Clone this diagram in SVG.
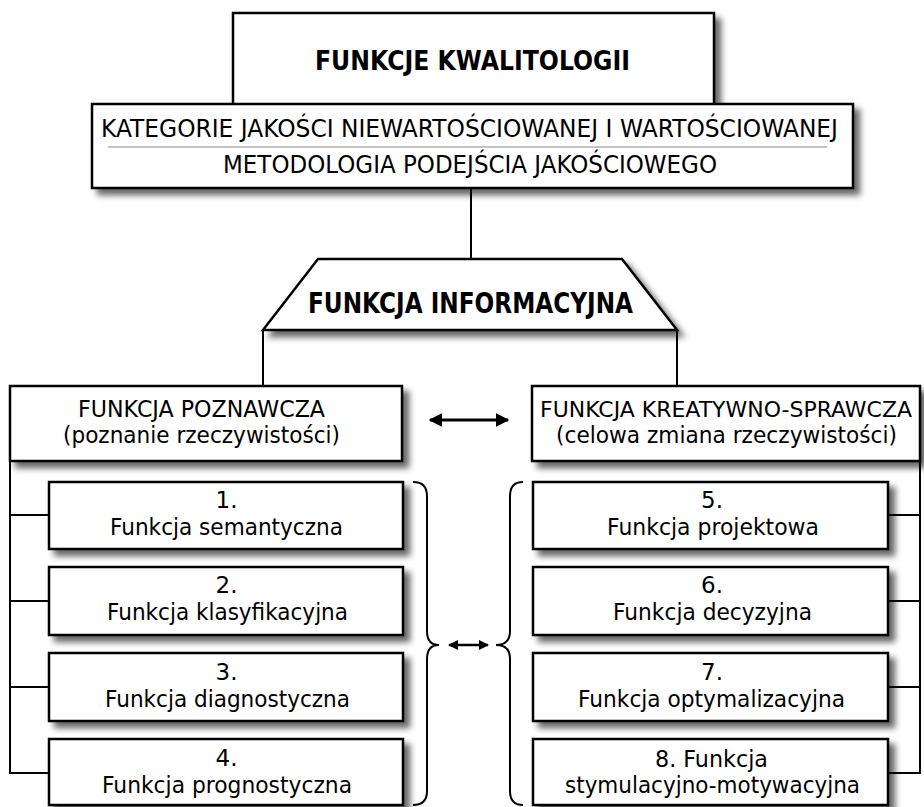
<svg xmlns="http://www.w3.org/2000/svg" width="924" height="807" viewBox="0 0 924 807">
<defs>
<filter id="sh" x="-10%" y="-10%" width="130%" height="140%">
<feGaussianBlur in="SourceAlpha" stdDeviation="3"/>
<feOffset dx="6" dy="6" result="b"/>
<feComponentTransfer><feFuncA type="linear" slope="0.6"/></feComponentTransfer>
<feMerge><feMergeNode/><feMergeNode in="SourceGraphic"/></feMerge>
</filter>
<marker id="ah" viewBox="0 0 10 10" refX="9" refY="5" markerWidth="4.5" markerHeight="4.5" orient="auto-start-reverse" markerUnits="strokeWidth">
<path d="M0,0 L10,5 L0,10 z" fill="#000"/>
</marker>
<marker id="ahs" viewBox="0 0 10 10" refX="9" refY="5" markerWidth="4" markerHeight="4.5" orient="auto-start-reverse" markerUnits="strokeWidth">
<path d="M0,0 L10,5 L0,10 z" fill="#000"/>
</marker>
</defs>
<style>
.box{fill:#fff;stroke:#000;stroke-width:2.5}
.ln{fill:none;stroke:#000;stroke-width:2}
text{font-family:"DejaVu Sans","Verdana",sans-serif;fill:#000;text-anchor:middle}
.t{font-size:23px}
.c{font-size:25px}
.b{font-size:26px;font-weight:bold}
.bb{font-size:29px;font-weight:bold}
</style>
<rect width="924" height="807" fill="#fff"/>

<g id="connectors">
<line class="ln" x1="471" y1="188" x2="471" y2="259"/>
<line class="ln" x1="263" y1="330" x2="263" y2="386"/>
<line class="ln" x1="677" y1="330" x2="677" y2="386"/>
<polyline class="ln" points="10,461 10,773 49,773"/>
<line class="ln" x1="10" y1="515" x2="49" y2="515"/>
<line class="ln" x1="10" y1="601" x2="49" y2="601"/>
<line class="ln" x1="10" y1="687" x2="49" y2="687"/>
<polyline class="ln" points="920,461 920,773 888,773"/>
<line class="ln" x1="888" y1="515" x2="920" y2="515"/>
<line class="ln" x1="888" y1="601" x2="920" y2="601"/>
<line class="ln" x1="888" y1="687" x2="920" y2="687"/>
<line x1="430" y1="420" x2="508" y2="420" stroke="#000" stroke-width="3" marker-start="url(#ah)" marker-end="url(#ah)"/>
<path class="ln" d="M413,482 Q427,482 427,496 L427,631 Q427,645 439,645 Q427,645 427,659 L427,791 Q427,805 413,805"/>
<path class="ln" d="M523,482 Q510,482 510,496 L510,631 Q510,645 496,645 Q510,645 510,659 L510,791 Q510,805 523,805"/>
<line x1="449" y1="645" x2="488" y2="645" stroke="#000" stroke-width="2.5" marker-start="url(#ahs)" marker-end="url(#ahs)"/>
</g>

<g id="top">
<rect class="box" x="233" y="13" width="481" height="100" filter="url(#sh)"/>
<text class="b" x="472.5" y="70" textLength="315" lengthAdjust="spacingAndGlyphs">FUNKCJE KWALITOLOGII</text>
</g>

<g id="categories">
<rect class="box" x="92" y="104" width="761" height="84" filter="url(#sh)"/>
<text class="c" x="469.5" y="137" textLength="737" lengthAdjust="spacingAndGlyphs">KATEGORIE JAKOŚCI NIEWARTOŚCIOWANEJ I WARTOŚCIOWANEJ</text>
<line x1="108" y1="147" x2="827" y2="147" stroke="#888" stroke-width="1.2"/>
<text class="c" x="470" y="173" textLength="494" lengthAdjust="spacingAndGlyphs">METODOLOGIA PODEJŚCIA JAKOŚCIOWEGO</text>
</g>

<g id="informacyjna">
<polygon class="box" points="318,259 622,259 677,330 263,330" filter="url(#sh)"/>
<text class="bb" x="470.5" y="313" textLength="325" lengthAdjust="spacingAndGlyphs">FUNKCJA INFORMACYJNA</text>
</g>

<g id="poznawcza">
<rect class="box" x="10" y="386" width="392" height="75" filter="url(#sh)"/>
<text class="t" x="201.5" y="417" textLength="247" lengthAdjust="spacingAndGlyphs">FUNKCJA POZNAWCZA</text>
<text class="t" x="201.5" y="443" textLength="277" lengthAdjust="spacingAndGlyphs">(poznanie rzeczywistości)</text>
</g>

<g id="kreatywno">
<rect class="box" x="532" y="386" width="388" height="75" filter="url(#sh)"/>
<text class="t" x="726" y="417" style="font-size:21.5px" textLength="372" lengthAdjust="spacingAndGlyphs">FUNKCJA KREATYWNO-SPRAWCZA</text>
<text class="t" x="726.5" y="443" textLength="341" lengthAdjust="spacingAndGlyphs">(celowa zmiana rzeczywistości)</text>
</g>

<g id="f1">
<rect class="box" x="49" y="482" width="354" height="67" filter="url(#sh)"/>
<text class="t" x="226.5" y="508">1.</text>
<text class="t" x="226.5" y="535" textLength="233" lengthAdjust="spacingAndGlyphs">Funkcja semantyczna</text>
</g>
<g id="f2">
<rect class="box" x="49" y="567" width="354" height="68" filter="url(#sh)"/>
<text class="t" x="226.5" y="593">2.</text>
<text class="t" x="227.5" y="620" textLength="241" lengthAdjust="spacingAndGlyphs">Funkcja klasyfikacyjna</text>
</g>
<g id="f3">
<rect class="box" x="49" y="653" width="354" height="68" filter="url(#sh)"/>
<text class="t" x="226.5" y="680">3.</text>
<text class="t" x="227.5" y="707" textLength="245" lengthAdjust="spacingAndGlyphs">Funkcja diagnostyczna</text>
</g>
<g id="f4">
<rect class="box" x="49" y="739" width="354" height="66" filter="url(#sh)"/>
<text class="t" x="226.5" y="766">4.</text>
<text class="t" x="227" y="793" textLength="250" lengthAdjust="spacingAndGlyphs">Funkcja prognostyczna</text>
</g>

<g id="f5">
<rect class="box" x="533" y="482" width="355" height="67" filter="url(#sh)"/>
<text class="t" x="712" y="508">5.</text>
<text class="t" x="713" y="535" textLength="212" lengthAdjust="spacingAndGlyphs">Funkcja projektowa</text>
</g>
<g id="f6">
<rect class="box" x="533" y="567" width="355" height="68" filter="url(#sh)"/>
<text class="t" x="712" y="593">6.</text>
<text class="t" x="712.5" y="620" textLength="199" lengthAdjust="spacingAndGlyphs">Funkcja decyzyjna</text>
</g>
<g id="f7">
<rect class="box" x="533" y="653" width="355" height="68" filter="url(#sh)"/>
<text class="t" x="712" y="680">7.</text>
<text class="t" x="711.5" y="707" textLength="267" lengthAdjust="spacingAndGlyphs">Funkcja optymalizacyjna</text>
</g>
<g id="f8">
<rect class="box" x="533" y="739" width="355" height="66" filter="url(#sh)"/>
<text class="t" x="711.5" y="767" textLength="113" lengthAdjust="spacingAndGlyphs">8. Funkcja</text>
<text class="t" x="712.5" y="793" textLength="295" lengthAdjust="spacingAndGlyphs">stymulacyjno-motywacyjna</text>
</g>
</svg>
